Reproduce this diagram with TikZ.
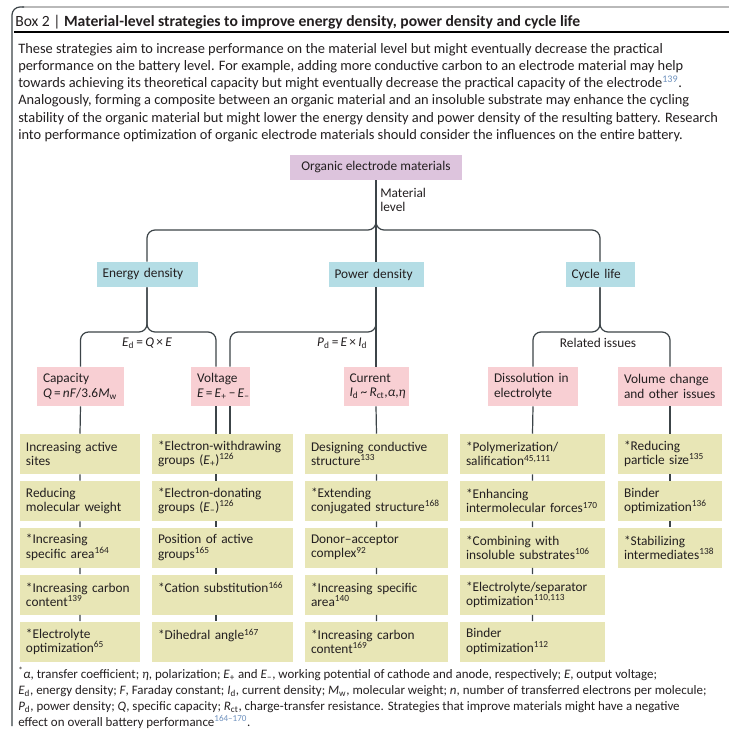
\documentclass[tikz,border=0pt]{standalone}
\usepackage{fontspec}
\setmainfont{Carlito}
\definecolor{boxline}{RGB}{60,68,72}
\definecolor{inktext}{RGB}{35,31,32}
\definecolor{topfill}{RGB}{221,196,221}
\definecolor{levfill}{RGB}{180,221,229}
\definecolor{keyfill}{RGB}{248,207,211}
\definecolor{wayfill}{RGB}{232,230,182}
\definecolor{reftext}{RGB}{110,145,190}
\newcommand{\refsup}[1]{\textsuperscript{#1}}
\newcommand{\bodyref}[1]{\textcolor{reftext}{\textsuperscript{#1}}}

\begin{document}
\begin{tikzpicture}[x=0.75pt,y=-0.75pt,text=inktext,font=\fontsize{10}{10.75}\selectfont,
 link/.style={draw=boxline,line width=0.9pt,rounded corners=6pt},
 topbox/.style={fill=topfill,minimum width=129pt,minimum height=18.75pt,inner sep=0pt},
 levbox/.style={fill=levfill,text width=#1,minimum height=18.75pt,inner xsep=4.5pt,inner ysep=1pt,align=left},
 keybox/.style={fill=keyfill,text width=#1,minimum height=29.25pt,inner xsep=4.5pt,inner ysep=1pt,align=left},
 waybox/.style={fill=wayfill,text width=#1,minimum height=30pt,inner xsep=4.5pt,inner ysep=1pt,align=left}]
\useasboundingbox[fill=white] (0,0) rectangle (738,743);
% frame and heading
\draw[gray!55,line width=1.5pt] (22,7)--(729,7);
\draw[boxline,line width=0.9pt,rounded corners=6pt] (12,726)--(12,7)--(24,7);
\node[anchor=base west,inner sep=0pt,font=\fontsize{11.7}{13}\selectfont] (title) at (15,26) {Box 2 | \textbf{Material-level strategies to improve energy density, power density and cycle life}};
\draw[black,line width=0.9pt] (14,32)--(729,32);
\node[anchor=north west,inner sep=0pt,align=left,font=\fontsize{10.8}{12.9}\selectfont] (intro) at (18,43) {These strategies aim to increase performance on the material level but might eventually decrease the practical\\
performance on the battery level. For example, adding more conductive carbon to an electrode material may help\\
towards achieving its theoretical capacity but might eventually decrease the practical capacity of the electrode\bodyref{139}.\\
Analogously, forming a composite between an organic material and an insoluble substrate may enhance the cycling\\
stability of the organic material but might lower the energy density and power density of the resulting battery. Research\\
into performance optimization of organic electrode materials should consider the influences on the entire battery.};

% tree
\node[topbox] (top) at (376,167.5) {Organic electrode materials};
\node[levbox=66.75pt] (ed) at (147,274.5) {Energy density};
\node[levbox=62.25pt] (pd) at (376,274.5) {Power density};
\node[levbox=42.75pt] (cl) at (600,274.5) {Cycle life};
\node[keybox=56.25pt] (cap) at (80.5,386.5) {Capacity\\\textit{Q}\,=\,\textit{nF}/3.6\textit{M}\textsubscript{w}};
\node[keybox=35.25pt] (volt) at (220.5,386.5) {Voltage\\\textit{E}\,=\,\textit{E}\textsubscript{+}\,−\,\textit{E}\textsubscript{−}};
\node[keybox=39.75pt] (cur) at (376,386.5) {Current\\\textit{I}\textsubscript{d}\,\textasciitilde\,\textit{R}\textsubscript{ct},\textit{α},\textit{η}};
\node[keybox=58.5pt] (diss) at (533,386.5) {Dissolution in\\electrolyte};
\node[keybox=69pt] (vol) at (670,386.5) {Volume change\\and other issues};

\node[waybox=81pt] (c11) at (80,454) {Increasing active\\sites};
\node[waybox=81pt] (c12) at (80,501) {Reducing\\molecular weight};
\node[waybox=81pt] (c13) at (80,547.5) {*Increasing\\specific area\refsup{164}};
\node[waybox=81pt] (c14) at (80,594.5) {*Increasing carbon\\content\refsup{139}};
\node[waybox=81pt] (c15) at (80,641.5) {*Electrolyte\\optimization\refsup{65}};

\node[waybox=96.75pt] (c21) at (222.5,454) {*Electron-withdrawing\\groups (\textit{E}\textsubscript{+})\refsup{126}};
\node[waybox=96.75pt] (c22) at (222.5,501) {*Electron-donating\\groups (\textit{E}\textsubscript{−})\refsup{126}};
\node[waybox=96.75pt] (c23) at (222.5,547.5) {Position of active\\groups\refsup{165}};
\node[waybox=96.75pt] (c24) at (222.5,594.5) {*Cation substitution\refsup{166}\\\mbox{}};
\node[waybox=96.75pt] (c25) at (222.5,641.5) {*Dihedral angle\refsup{167}\\\mbox{}};

\node[waybox=98.25pt] (c31) at (376.5,454) {Designing conductive\\structure\refsup{133}};
\node[waybox=98.25pt] (c32) at (376.5,501) {*Extending\\conjugated structure\refsup{168}};
\node[waybox=98.25pt] (c33) at (376.5,547.5) {Donor–acceptor\\complex\refsup{92}};
\node[waybox=98.25pt] (c34) at (376.5,594.5) {*Increasing specific\\area\refsup{140}};
\node[waybox=98.25pt] (c35) at (376.5,641.5) {*Increasing carbon\\content\refsup{169}};

\node[waybox=99.75pt] (c41) at (532.5,454) {*Polymerization/\\salification\refsup{45,111}};
\node[waybox=99.75pt] (c42) at (532.5,501) {*Enhancing\\intermolecular forces\refsup{170}};
\node[waybox=99.75pt] (c43) at (532.5,547.5) {*Combining with\\insoluble substrates\refsup{106}};
\node[waybox=99.75pt] (c44) at (532.5,594.5) {*Electrolyte/separator\\optimization\refsup{110,113}};
\node[waybox=99.75pt] (c45) at (532.5,641.5) {Binder\\optimization\refsup{112}};

\node[waybox=69pt] (c51) at (670,454) {*Reducing\\particle size\refsup{135}};
\node[waybox=69pt] (c52) at (670,501) {Binder\\optimization\refsup{136}};
\node[waybox=69pt] (c53) at (670,547.5) {*Stabilizing\\intermediates\refsup{138}};

\coordinate (topBr) at (376,230);
\coordinate (edBr) at (147,332);
\coordinate (vL) at (216,332);
\coordinate (vR) at (230,332);
\coordinate (clBr) at (600,332);

\draw[link] (top.south)--(pd.north);
\draw[link] (top.south)|-(ed.north |- topBr)--(ed.north);
\draw[link] (top.south)|-(cl.north |- topBr)--(cl.north);
\draw[link] (ed.south)|-(cap.north |- edBr)--(cap.north);
\draw[link] (ed.south)|-(vL)--(vL |- volt.north);
\draw[link] (pd.south)|-(vR)--(vR |- volt.north);
\draw[link] (pd.south)--(cur.north);
\draw[link] (cl.south)|-(diss.north |- clBr)--(diss.north);
\draw[link] (cl.south)|-(vol.north |- clBr)--(vol.north);

\draw[link] (cap.south)--(c11.north) (c11)--(c12) (c12)--(c13) (c13)--(c14) (c14)--(c15);
\draw[link] (volt.south -| vL)--(c21.north -| vL) (volt.south -| vR)--(c21.north -| vR);
\draw[link] (c21.south -| vL)--(c22.north -| vL) (c22.south -| vL)--(c23.north -| vL) (c23.south -| vL)--(c24.north -| vL) (c24.south -| vL)--(c25.north -| vL);
\draw[link] (cur.south)--(c31.north) (c31)--(c32) (c32)--(c33) (c33)--(c34) (c34)--(c35);
\draw[link] (diss.south)--(c41.north) (c41)--(c42) (c42)--(c43) (c43)--(c44) (c44)--(c45);
\draw[link] (vol.south)--(c51.north) (c51)--(c52) (c52)--(c53);

\node[anchor=north west,inner sep=0pt,align=left] (matLev) at (380,188) {Material\\level};
\node (edEq) at (147,343) {\textit{E}\textsubscript{d}\,=\,\textit{Q}\,×\,\textit{E}};
\node[anchor=east] (pdEq) at (372,343) {\textit{P}\textsubscript{d}\,=\,\textit{E}\,×\,\textit{I}\textsubscript{d}};
\node (clNote) at (598,343) {Related issues};

% footnote
\node[anchor=north west,inner sep=0pt,align=left,font=\fontsize{9.7}{12}\selectfont] (foot) at (18,667) {\textsuperscript{*}\textit{α}, transfer coefficient; \textit{η}, polarization; \textit{E}\textsubscript{+} and \textit{E}\textsubscript{−}, working potential of cathode and anode, respectively; \textit{E}, output voltage;\\
\textit{E}\textsubscript{d}, energy density; \textit{F}, Faraday constant; \textit{I}\textsubscript{d}, current density; \textit{M}\textsubscript{w}, molecular weight; \textit{n}, number of transferred electrons per molecule;\\
\textit{P}\textsubscript{d}, power density; \textit{Q}, specific capacity; \textit{R}\textsubscript{ct}, charge-transfer resistance. Strategies that improve materials might have a negative\\
effect on overall battery performance\bodyref{164–170}.};
\end{tikzpicture}
\end{document}
